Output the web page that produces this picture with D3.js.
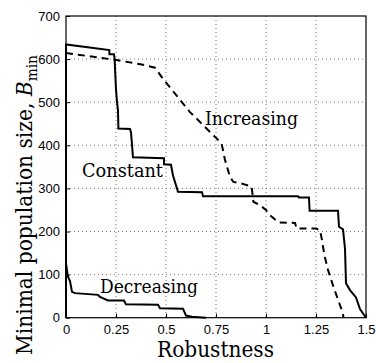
<!DOCTYPE html>
<html>
<head>
<meta charset="utf-8">
<script src="https://cdn.jsdelivr.net/npm/d3@7"></script>
<style>
  body { margin: 0; background: #fff; }
  svg text.serif { font-family: 'DejaVu Serif', 'Liberation Serif', serif; }
  svg text.sans { font-family: 'Liberation Sans', Arial, Helvetica, sans-serif; }
</style>
</head>
<body>
<div id="chart"></div>
<script>
// robustness (x) vs minimal population size (y)
const constantX = [0, 0, 0.217, 0.217, 0.24, 0.243, 0.25, 0.255, 0.26, 0.262, 0.32, 0.325, 0.335, 0.49, 0.49, 0.525, 0.535, 0.56, 0.68, 0.685, 1.16, 1.165, 1.215, 1.218, 1.36, 1.365, 1.385, 1.395, 1.4, 1.42, 1.45, 1.47, 1.5];
const constantY = [0, 634, 621, 611, 611, 600, 529, 500, 481, 439, 438, 430, 372, 370, 356, 355, 330, 292, 291, 282, 282, 279, 279, 248, 248, 211, 205, 160, 80, 64, 47, 20, 0];

const increasingX = [0, 0.237, 0.386, 0.445, 0.487, 0.545, 0.62, 0.67, 0.711, 0.753, 0.778, 0.795, 0.82, 0.837, 0.88, 0.928, 0.937, 0.97, 1.0, 1.02, 1.062, 1.145, 1.153, 1.25, 1.27, 1.28, 1.292, 1.31, 1.337, 1.367, 1.385, 1.387];
const increasingY = [614, 599, 587, 580, 553, 520, 477, 454, 435, 416, 404, 366, 327, 315, 311, 304, 269, 261, 250, 238, 221, 220, 207, 207, 203, 180, 145, 111, 72, 33, 10, 0];

const decreasingX = [0, 0.01, 0.02, 0.03, 0.045, 0.16, 0.17, 0.21, 0.29, 0.3, 0.46, 0.47, 0.585, 0.6, 0.63, 0.7];
const decreasingY = [125, 95, 85, 60, 57, 53, 48, 40, 40, 31, 30, 22, 21, 5, 2, 0];

const xTicks = [0, 0.25, 0.5, 0.75, 1, 1.25, 1.5];
const yTicks = [0, 100, 200, 300, 400, 500, 600, 700];

const svgWidth = 376, svgHeight = 363;
const margin = { top: 16, right: 10, bottom: 45.3, left: 66 };
const width = svgWidth - margin.left - margin.right;
const height = svgHeight - margin.top - margin.bottom;

const svg = d3.select('#chart')
    .append('svg')
    .attr('width', svgWidth)
    .attr('height', svgHeight);

const bounds = svg.append('g')
    .attr('transform', `translate(${margin.left}, ${margin.top})`);

const xScale = d3.scaleLinear().domain([0, 1.5]).range([0, width]);
const yScale = d3.scaleLinear().domain([0, 700]).range([height, 0]);

// dotted grid
bounds.append('g')
    .selectAll('line')
    .data(xTicks.slice(1, -1))
    .join('line')
    .attr('x1', d => xScale(d)).attr('x2', d => xScale(d))
    .attr('y1', 0).attr('y2', height)
    .attr('stroke', '#555').attr('stroke-width', 0.8)
    .attr('stroke-dasharray', '1,3');

bounds.append('g')
    .selectAll('line')
    .data(yTicks.slice(1, -1))
    .join('line')
    .attr('y1', d => yScale(d)).attr('y2', d => yScale(d))
    .attr('x1', 0).attr('x2', width)
    .attr('stroke', '#555').attr('stroke-width', 0.8)
    .attr('stroke-dasharray', '1,3');

// axes
const fmt = d => d3.format('~g')(d);
const styleAxis = g => {
    g.select('.domain').remove();
    g.attr('font-family', null).attr('font-size', null);
    g.selectAll('.tick line').attr('stroke', '#000');
    g.selectAll('.tick text').attr('class', 'sans').attr('fill', '#000').style('font-size', '13px');
};

bounds.append('g')
    .attr('transform', `translate(0, ${height})`)
    .call(d3.axisBottom(xScale).tickValues(xTicks).tickFormat(fmt).tickSizeInner(-4).tickSizeOuter(0).tickPadding(7))
    .call(styleAxis);

bounds.append('g')
    .call(d3.axisLeft(yScale).tickValues(yTicks).tickFormat(fmt).tickSizeInner(-4).tickSizeOuter(0).tickPadding(6))
    .call(styleAxis);

// frame
bounds.append('rect')
    .attr('width', width).attr('height', height)
    .attr('fill', 'none').attr('stroke', '#000').attr('stroke-width', 1.2);

const toPoints = (xs, ys) => xs.map((x, i) => [x, ys[i]]);
const line = d3.line()
    .x(d => xScale(d[0]))
    .y(d => yScale(d[1]));

bounds.append('path')
    .datum(toPoints(constantX, constantY))
    .attr('d', line)
    .attr('fill', 'none').attr('stroke', '#000').attr('stroke-width', 2);

bounds.append('path')
    .datum(toPoints(increasingX, increasingY))
    .attr('d', line)
    .attr('fill', 'none').attr('stroke', '#000').attr('stroke-width', 2)
    .attr('stroke-dasharray', '7,5');

bounds.append('path')
    .datum(toPoints(decreasingX, decreasingY))
    .attr('d', line)
    .attr('fill', 'none').attr('stroke', '#000').attr('stroke-width', 2);

// curve labels
const labels = [
    { text: 'Increasing', x: 205, y: 125, w: 93 },
    { text: 'Constant', x: 82, y: 177, w: 81 },
    { text: 'Decreasing', x: 100, y: 293, w: 98 }
];
svg.selectAll('text.curve')
    .data(labels)
    .join('text')
    .attr('class', 'curve serif')
    .attr('x', d => d.x).attr('y', d => d.y)
    .style('font-size', '19px')
    .attr('textLength', d => d.w)
    .attr('lengthAdjust', 'spacingAndGlyphs')
    .text(d => d.text);

// axis titles
svg.append('text')
    .attr('class', 'serif')
    .attr('x', 157).attr('y', 357)
    .style('font-size', '22px')
    .attr('textLength', 117)
    .attr('lengthAdjust', 'spacingAndGlyphs')
    .text('Robustness');

const yTitle = svg.append('text')
    .attr('class', 'serif')
    .attr('transform', 'translate(32, 355) rotate(-90)')
    .attr('textLength', 300)
    .attr('lengthAdjust', 'spacingAndGlyphs')
    .style('font-size', '22px');
yTitle.append('tspan').text('Minimal population size, ');
yTitle.append('tspan').style('font-style', 'italic').text('B');
yTitle.append('tspan').style('font-size', '15px').attr('dy', 5).text('min');
</script>
</body>
</html>
